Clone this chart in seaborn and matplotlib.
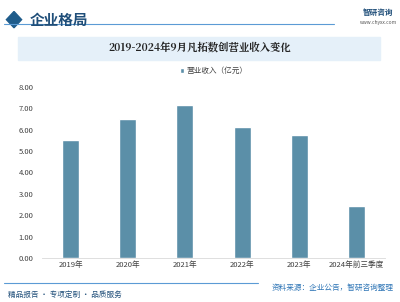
import matplotlib
matplotlib.use("Agg")
import matplotlib.pyplot as plt
import seaborn as sns
import pandas as pd
from matplotlib.patches import Rectangle, Polygon

# data
years = ["2019年", "2020年", "2021年", "2022年", "2023年", "2024年前三季度"]
revenue = [5.50, 6.50, 7.15, 6.13, 5.77, 2.45]
series_name = "营业收入（亿元）"
yticks = [0, 1, 2, 3, 4, 5, 6, 7, 8]

sns.set_theme(style="white")
plt.rcParams['font.family'] = ['Noto Sans CJK SC', 'DejaVu Sans']

df = pd.DataFrame({"year": years, "value": revenue, "series": series_name})

fig = plt.figure(figsize=(4.0, 3.02), dpi=100)
ax = fig.add_axes([0.105, 0.1457, 0.8575, 0.5663])

sns.barplot(data=df, x="year", y="value", hue="series", palette=["#5b8fa8"],
            saturation=1, width=0.3, ax=ax, legend=True)

ax.set_ylim(0, 8)
ax.set_yticks(yticks)
ax.set_yticklabels([f"{t:.2f}" for t in yticks], fontsize=5.5, color="#404040")
ax.tick_params(axis="x", labelsize=5.5, colors="#404040", length=0, pad=2)
ax.tick_params(axis="y", length=0, pad=6)
ax.set_xlabel("")
ax.set_ylabel("")
for s in ["top", "right", "left"]:
    ax.spines[s].set_visible(False)
ax.spines["bottom"].set_color("#d9d9d9")
ax.spines["bottom"].set_linewidth(0.6)
ax.set_facecolor("none")

leg = ax.legend(loc="lower center", bbox_to_anchor=(0.5, 1.03), frameon=False,
                fontsize=5.5, handlelength=0.6, handleheight=0.6, handletextpad=0.3)
for t in leg.get_texts():
    t.set_color("#404040")

# header
fig.patches.append(Polygon([(0.035, 0.962), (0.054, 0.935), (0.035, 0.908), (0.016, 0.935)],
                           closed=True, transform=fig.transFigure, color="#1f5c8b"))
fig.text(0.075, 0.935, "企业格局", fontsize=10.5, fontweight="bold", color="#1f4e79", va="center")
fig.lines.append(plt.Line2D([0.01, 0.835], [0.922, 0.922], transform=fig.transFigure,
                            color="#5b9bd5", lw=0.8))
fig.text(0.945, 0.96, "智研咨询", fontsize=5.5, fontweight="bold", color="#1f4e79", ha="center", va="center")
fig.text(0.945, 0.925, "www.chyxx.com", fontsize=3.5, color="#555555", ha="center", va="center")

# title box
fig.patches.append(Rectangle((0.045, 0.80), 0.905, 0.078, transform=fig.transFigure,
                             color="#e5f0f9", zorder=0))
fig.text(0.5, 0.84, "2019-2024年9月凡拓数创营业收入变化", fontsize=7.5, fontweight="bold",
         color="#222222", ha="center", va="center",
         family=['Noto Serif CJK SC', 'Noto Sans CJK SC', 'DejaVu Sans'])

# footer
fig.lines.append(plt.Line2D([0.01, 0.645], [0.062, 0.062], transform=fig.transFigure,
                            color="#5b9bd5", lw=0.8))
fig.text(0.985, 0.048, "资料来源：企业公告，智研咨询整理", fontsize=5.5, color="#2e75b6",
         ha="right", va="center")
fig.text(0.02, 0.025, "精品报告 · 专项定制 · 品质服务", fontsize=5.5, color="#1f4e79",
         ha="left", va="center")

fig.savefig("out.png", dpi=100)
